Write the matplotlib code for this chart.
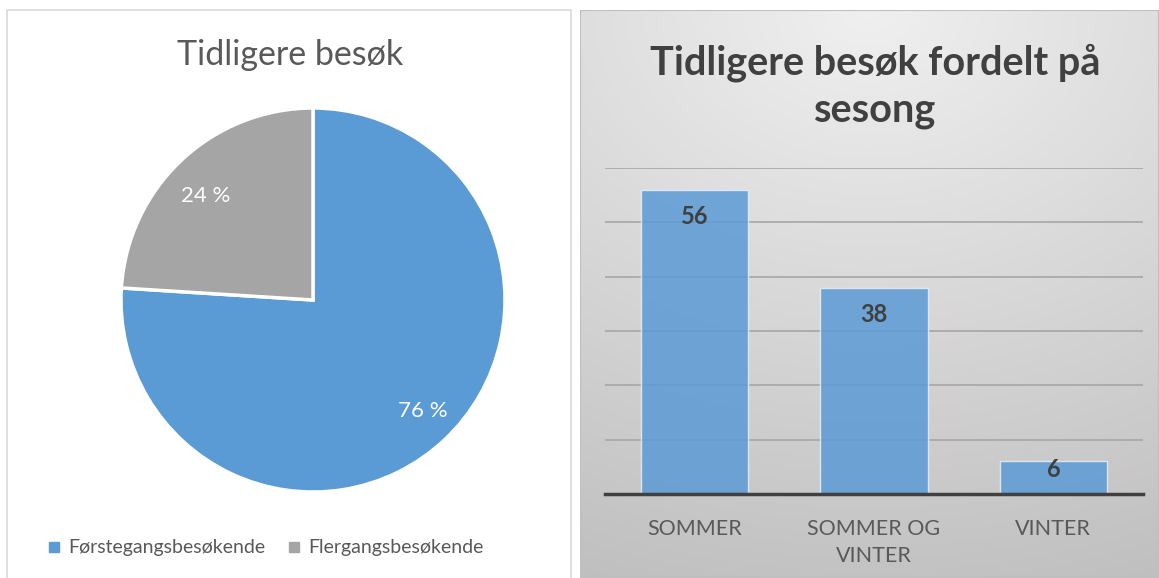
import matplotlib.pyplot as plt
import numpy as np
from matplotlib.patches import Rectangle
from matplotlib.lines import Line2D

# pie data
pie_labels = ["Førstegangsbesøkende", "Flergangsbesøkende"]
pie_shares = [76, 24]
pie_colors = ["#5B9BD5", "#A5A5A5"]

# bar data
seasons = ["SOMMER", "SOMMER OG\nVINTER", "VINTER"]
season_counts = [56, 38, 6]

plt.rcParams['font.family'] = ['Lato', 'DejaVu Sans']

W, H = 1159, 578
fig = plt.figure(figsize=(W / 100, H / 100), dpi=100)
fig.patch.set_facecolor("white")


def fx(px):
    return px / W


def fy(py):
    return 1 - py / H


# left panel frame (behind the axes)
fig.add_artist(Rectangle((fx(7), -0.01), fx(571) - fx(7), fy(10) + 0.01,
                         transform=fig.transFigure, facecolor="white",
                         edgecolor="#d9d9d9", linewidth=1.2, zorder=-5))

# right panel with gradient background
bg = fig.add_axes([fx(580), 0, 1 - fx(580), fy(10)])
gx, gy = np.meshgrid(np.linspace(0, 1, 200), np.linspace(0, 1, 200))
r = np.sqrt((gx - 0.5) ** 2 * 0.6 + gy ** 2) / np.sqrt(0.6 * 0.25 + 1)
shade = 0.94 - 0.19 * r
bg.imshow(np.dstack([shade, shade, shade]), aspect="auto", extent=(0, 1, 0, 1),
          origin="upper")
bg.set_xlim(0, 1)
bg.set_ylim(0, 1)
bg.axis("off")
bg.add_patch(Rectangle((0, 0), 1, 1, transform=bg.transAxes, fill=False,
                       edgecolor="#bfbfbf", linewidth=1.5))

# ---- pie ----
cx, cy, rad = 313, 300, 192
pax = fig.add_axes([fx(cx - rad), fy(cy + rad), fx(2 * rad), (2 * rad) / H])
wedges, texts, autotexts = pax.pie(
    pie_shares, colors=pie_colors, startangle=90, counterclock=False,
    autopct=lambda p: f"{p:.0f} %", pctdistance=0.79,
    wedgeprops=dict(edgecolor="white", linewidth=2.5),
    textprops=dict(color="white", fontsize=16))
# nudge labels a little, the way the original places them
autotexts[0].set_position((0.57, -0.58))
autotexts[1].set_position((-0.56, 0.54))
pax.set_xlim(-1, 1)
pax.set_ylim(-1, 1)
pax.set_aspect("auto")

fig.text(fx(290), fy(55), "Tidligere besøk", ha="center", va="center",
         fontsize=24.5, color="#595959")

handles = [Line2D([0], [0], marker="s", linestyle="none", markersize=7,
                  markerfacecolor=c, markeredgecolor=c) for c in pie_colors]
fig.legend(handles, pie_labels, loc="center", bbox_to_anchor=(fx(266), fy(548)),
           ncol=2, frameon=False, fontsize=14, labelcolor="#595959",
           handlelength=0.6, handletextpad=0.4, columnspacing=1.2)

# ---- bars ----
bax = fig.add_axes([fx(605), fy(494), fx(1143) - fx(605), (494 - 168) / H])
bax.patch.set_alpha(0)
x = np.arange(len(seasons))
bax.bar(x, season_counts, width=0.6, color="#5B9BD5", alpha=0.85,
        edgecolor="#e8eef6", linewidth=1, zorder=3)
for xi, v in zip(x, season_counts):
    bax.text(xi, v - min(5, 0.25 * v), str(v), ha="center", va="center",
             fontsize=17, fontweight="bold", color="#404040", zorder=4)
bax.set_xlim(-0.5, len(seasons) - 0.5)
bax.set_ylim(0, 60)
bax.set_yticks(np.arange(0, 61, 10))
bax.set_yticklabels([])
bax.tick_params(axis="y", length=0)
bax.grid(axis="y", color="#a6a6a6", linewidth=1.2, zorder=0)
bax.set_xticks(x)
bax.set_xticklabels(seasons, fontsize=15.5, color="#595959", linespacing=1.45,
                    va="top")
bax.tick_params(axis="x", length=0, pad=18)
for s in ["top", "right", "left"]:
    bax.spines[s].set_visible(False)
bax.spines["bottom"].set_color("#404040")
bax.spines["bottom"].set_linewidth(2.5)
bax.spines["bottom"].set_zorder(5)

fig.text(fx(875), fy(86), "Tidligere besøk fordelt på\nsesong", ha="center",
         va="center", fontsize=28.5, fontweight="bold", color="#404040",
         linespacing=1.32)

fig.savefig("out.png", dpi=100)
